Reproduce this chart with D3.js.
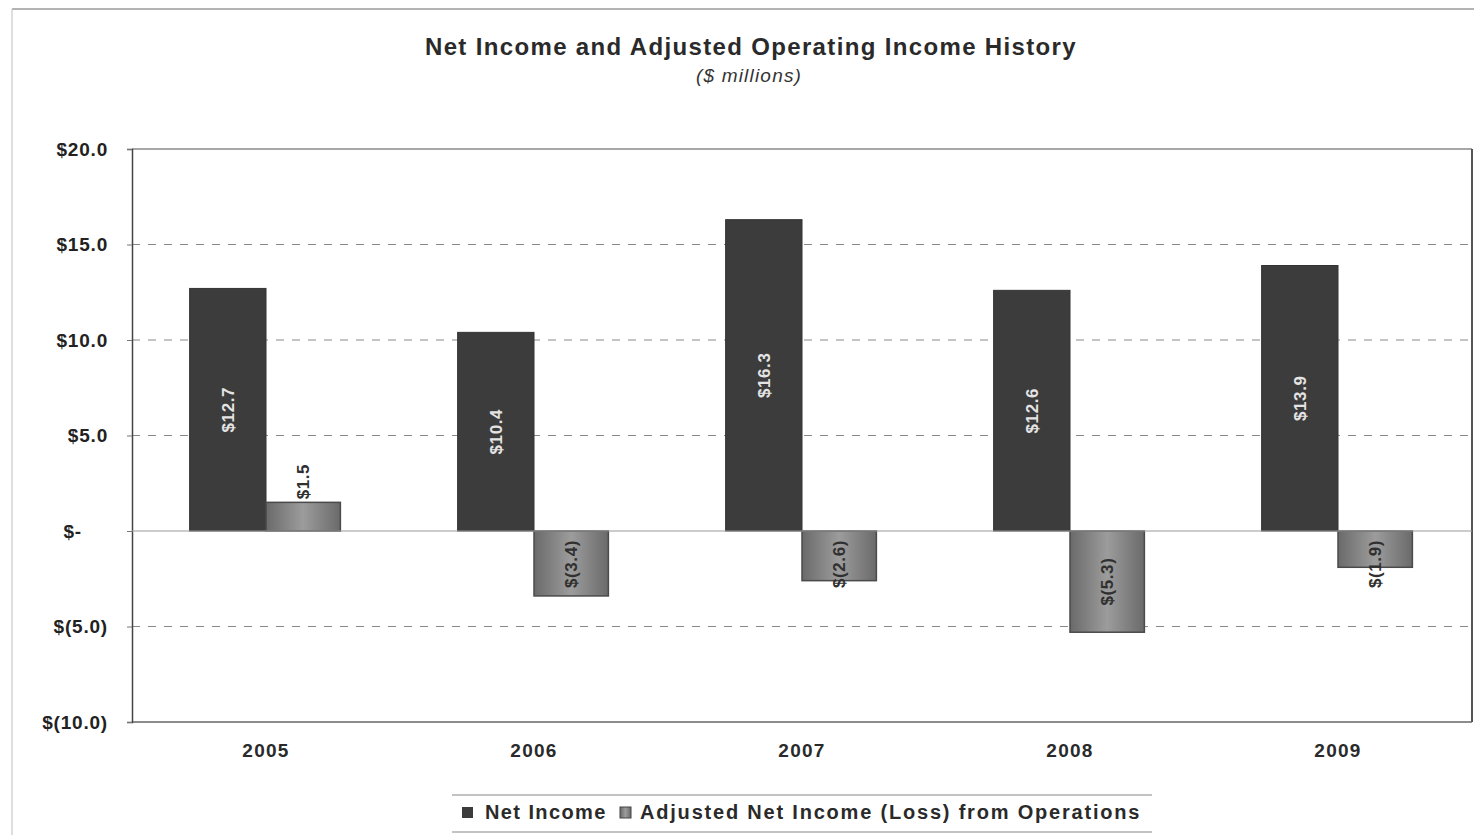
<!DOCTYPE html>
<html>
<head>
<meta charset="utf-8">
<script src="https://cdn.jsdelivr.net/npm/d3@7"></script>
<style>
  html, body { margin: 0; padding: 0; background: #fff; }
  svg { display: block; font-family: "Liberation Sans", Arial, sans-serif; }
</style>
</head>
<body>
<svg id="chart" width="1474" height="835"></svg>
<script>
// Fiscal years and the two series ($ millions)
const years = ["2005", "2006", "2007", "2008", "2009"];
const netIncome = [12.7, 10.4, 16.3, 12.6, 13.9];
const adjustedIncome = [1.5, -3.4, -2.6, -5.3, -1.9];
const seriesNames = ["Net Income", "Adjusted Net Income (Loss) from Operations"];
const yTicks = [-10, -5, 0, 5, 10, 15, 20];

const svg = d3.select("#chart");
const W = 1474, H = 835;
const plot = { left: 132, right: 1472, top: 149, bottom: 722 };

// Outer frame lines
svg.append("line").attr("x1", 12).attr("x2", W).attr("y1", 9).attr("y2", 9)
  .attr("stroke", "#9a9a9a").attr("stroke-width", 1.5);
svg.append("line").attr("x1", 12).attr("x2", 12).attr("y1", 9).attr("y2", H)
  .attr("stroke", "#c8c8c8").attr("stroke-width", 1.2);

// Title
svg.append("text").attr("x", 751).attr("y", 55).attr("text-anchor", "middle")
  .attr("font-size", 24).attr("font-weight", "bold").attr("fill", "#2a2a2a")
  .attr("letter-spacing", 1.35)
  .text("Net Income and Adjusted Operating Income History");
svg.append("text").attr("x", 749).attr("y", 82).attr("text-anchor", "middle")
  .attr("font-size", 19).attr("font-style", "italic").attr("fill", "#333")
  .attr("letter-spacing", 1.2)
  .text("($ millions)");

// Scales
const x = d3.scaleBand().domain(years)
  .range([plot.left, plot.right]).paddingInner(0.43).paddingOuter(0.215);
const xSub = d3.scaleBand().domain([0, 1]).range([0, x.bandwidth()]);
const y = d3.scaleLinear().domain([-10, 20]).range([plot.bottom, plot.top]);

// Gradient for the adjusted-income bars
const defs = svg.append("defs");
const grad = defs.append("linearGradient").attr("id", "adjGrad")
  .attr("x1", "0%").attr("x2", "100%").attr("y1", "0%").attr("y2", "0%");
grad.append("stop").attr("offset", "0%").attr("stop-color", "#6a6a6a");
grad.append("stop").attr("offset", "50%").attr("stop-color", "#9c9c9c");
grad.append("stop").attr("offset", "100%").attr("stop-color", "#6a6a6a");

// Gridlines
svg.append("g").selectAll("line")
  .data(yTicks.filter(t => t !== 0 && t !== 20 && t !== -10))
  .join("line")
  .attr("x1", plot.left).attr("x2", plot.right)
  .attr("y1", d => y(d)).attr("y2", d => y(d))
  .attr("stroke", "#8a8a8a").attr("stroke-width", 1.1)
  .attr("stroke-dasharray", "8,8");

// Plot border
svg.append("line").attr("x1", plot.left).attr("x2", plot.right)
  .attr("y1", plot.top).attr("y2", plot.top).attr("stroke", "#8a8a8a").attr("stroke-width", 1.3);
svg.append("line").attr("x1", plot.right).attr("x2", plot.right)
  .attr("y1", plot.top).attr("y2", plot.bottom).attr("stroke", "#555").attr("stroke-width", 2);
svg.append("line").attr("x1", plot.left).attr("x2", plot.right)
  .attr("y1", plot.bottom).attr("y2", plot.bottom).attr("stroke", "#666").attr("stroke-width", 1.5);

// Y axis
const yAxis = svg.append("g").attr("transform", `translate(${plot.left},0)`)
  .call(d3.axisLeft(y).tickValues(yTicks).tickSize(5).tickPadding(19)
    .tickFormat(d => d === 0 ? "$-" : d < 0 ? `$(${Math.abs(d).toFixed(1)})` : `$${d.toFixed(1)}`));
yAxis.select(".domain").attr("stroke", "#444").attr("stroke-width", 1.5);
yAxis.selectAll(".tick line").attr("stroke", "#777");
yAxis.selectAll(".tick text").attr("font-size", 19).attr("font-weight", "bold")
  .attr("letter-spacing", 0.8)
  .attr("fill", "#222").attr("font-family", "'Liberation Sans', Arial, sans-serif");
yAxis.selectAll(".tick").filter(d => d === 0).select("text").attr("dx", -26);

// X axis labels
const xAxis = svg.append("g").attr("transform", `translate(0,${plot.bottom})`)
  .call(d3.axisBottom(x).tickSize(0).tickPadding(22));
xAxis.select(".domain").remove();
xAxis.selectAll(".tick text").attr("font-size", 19).attr("font-weight", "bold")
  .attr("letter-spacing", 1.3)
  .attr("fill", "#2a2a2a").attr("font-family", "'Liberation Sans', Arial, sans-serif");

// Bars
const rows = years.map((yr, i) => ({ yr, net: netIncome[i], adj: adjustedIncome[i] }));
const g = svg.append("g");

g.selectAll("rect.net").data(rows).join("rect").attr("class", "net")
  .attr("x", d => x(d.yr) + xSub(0)).attr("width", xSub.bandwidth())
  .attr("y", d => y(Math.max(0, d.net))).attr("height", d => Math.abs(y(d.net) - y(0)))
  .attr("fill", "#3c3c3c").attr("stroke", "#333").attr("stroke-width", 1);

// Zero line
svg.append("line").attr("x1", plot.left).attr("x2", plot.right)
  .attr("y1", y(0)).attr("y2", y(0)).attr("stroke", "#999").attr("stroke-width", 1.2);

g.selectAll("rect.adj").data(rows).join("rect").attr("class", "adj")
  .attr("x", d => x(d.yr) + xSub(1)).attr("width", xSub.bandwidth() - 2)
  .attr("y", d => y(Math.max(0, d.adj))).attr("height", d => Math.abs(y(d.adj) - y(0)))
  .attr("fill", "url(#adjGrad)").attr("stroke", "#4a4a4a").attr("stroke-width", 1.5);

const fmt = v => v < 0 ? `$(${Math.abs(v).toFixed(1)})` : `$${v.toFixed(1)}`;

// Value labels, rotated
g.selectAll("text.netLbl").data(rows).join("text").attr("class", "netLbl")
  .attr("transform", d => `translate(${x(d.yr) + xSub(0) + xSub.bandwidth() / 2},${(y(d.net) + y(0)) / 2}) rotate(-90)`)
  .attr("text-anchor", "middle").attr("dy", "0.35em")
  .attr("font-size", 17).attr("font-weight", "bold").attr("fill", "#e4e4e4")
  .attr("letter-spacing", 0.6)
  .text(d => fmt(d.net));

// Adjusted labels: above a positive bar, centred in a negative bar but kept clear of the zero line
g.selectAll("text.adjLbl").data(rows).join("text").attr("class", "adjLbl")
  .attr("transform", d => {
    const cx = x(d.yr) + xSub(1) + (xSub.bandwidth() - 2) / 2;
    const cy = d.adj >= 0 ? y(d.adj) - 3 : Math.max((y(d.adj) + y(0)) / 2, y(0) + 33);
    return `translate(${cx},${cy}) rotate(-90)`;
  })
  .attr("text-anchor", d => d.adj >= 0 ? "start" : "middle").attr("dy", "0.35em")
  .attr("font-size", 17).attr("font-weight", "bold").attr("fill", "#303030")
  .attr("letter-spacing", 0.6)
  .text(d => fmt(d.adj));

// Legend
const lg = svg.append("g");
lg.append("line").attr("x1", 452).attr("x2", 1152).attr("y1", 795).attr("y2", 795)
  .attr("stroke", "#888").attr("stroke-width", 1.2);
lg.append("line").attr("x1", 452).attr("x2", 1152).attr("y1", 832).attr("y2", 832)
  .attr("stroke", "#888").attr("stroke-width", 1.2);
lg.append("rect").attr("x", 462).attr("y", 807).attr("width", 11).attr("height", 11)
  .attr("fill", "#3c3c3c");
lg.append("text").attr("x", 485).attr("y", 819).attr("font-size", 20)
  .attr("font-weight", "bold").attr("fill", "#2a2a2a").attr("letter-spacing", 1.4)
  .text(seriesNames[0]);
lg.append("rect").attr("x", 620).attr("y", 807).attr("width", 11).attr("height", 11)
  .attr("fill", "url(#adjGrad)").attr("stroke", "#444").attr("stroke-width", 1);
lg.append("text").attr("x", 640).attr("y", 819).attr("font-size", 20)
  .attr("font-weight", "bold").attr("fill", "#2a2a2a").attr("letter-spacing", 1.8)
  .text(seriesNames[1]);
</script>
</body>
</html>
